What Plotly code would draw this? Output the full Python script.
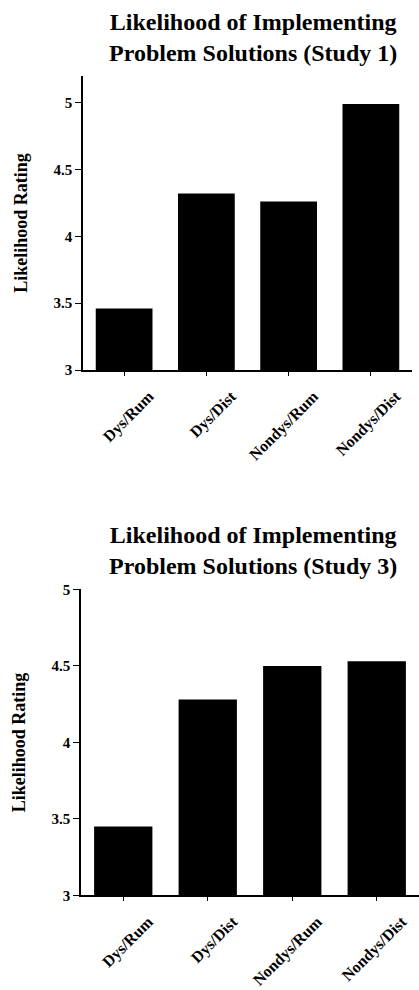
import plotly.graph_objects as go

categories = ["Dys/Rum", "Dys/Dist", "Nondys/Rum", "Nondys/Dist"]
study1_values = [3.46, 4.32, 4.26, 4.99]
study3_values = [3.45, 4.28, 4.50, 4.53]
ytick_vals = [3, 3.5, 4, 4.5, 5]
ytick_text = ["3", "3.5", "4", "4.5", "5"]
title1_lines = ["Likelihood of Implementing", "Problem Solutions (Study 1)"]
title3_lines = ["Likelihood of Implementing", "Problem Solutions (Study 3)"]
y_title = "Likelihood Rating"

W, H = 419, 990
FONT = "Liberation Serif"

fig = go.Figure()
fig.add_trace(go.Bar(x=categories, y=study1_values, width=0.69,
                     marker=dict(color="black", line=dict(width=0)),
                     xaxis="x", yaxis="y", showlegend=False))
fig.add_trace(go.Bar(x=categories, y=study3_values, width=0.69,
                     marker=dict(color="black", line=dict(width=0)),
                     xaxis="x2", yaxis="y2", showlegend=False))

def px_x(a, b):
    return [a / W, b / W]

def px_y(top, bottom):
    return [1 - bottom / H, 1 - top / H]

common_x = dict(type="category", range=[-0.5, 3.5], showline=True, linecolor="black",
                linewidth=1.5, ticks="outside", ticklen=4, tickwidth=1.2, tickcolor="black",
                tickangle=-45, ticklabelshift=25, ticklabelstandoff=5,
                showgrid=False, zeroline=False,
                tickfont=dict(family=FONT, size=16, color="black", weight="bold"))
common_y = dict(showline=True, linecolor="black", linewidth=1.5, ticks="outside",
                ticklen=6, tickwidth=1.2, tickcolor="black", showgrid=False,
                zeroline=False, tickvals=ytick_vals, ticktext=ytick_text,
                tickfont=dict(family=FONT, size=15, color="black", weight="bold"),
                title=dict(text=y_title, standoff=21,
                           font=dict(family=FONT, size=18, color="black", weight="bold")))

fig.update_layout(
    width=W, height=H, margin=dict(l=0, r=0, t=0, b=0),
    paper_bgcolor="white", plot_bgcolor="white", bargap=0.3,
    xaxis=dict(domain=px_x(83, 412), anchor="y", **common_x),
    yaxis=dict(domain=px_y(69, 368), anchor="x", range=[3, 5.2], **common_y),
    xaxis2=dict(domain=px_x(81, 419), anchor="y2", **common_x),
    yaxis2=dict(domain=px_y(591, 902), anchor="x2", range=[3, 5], **common_y),
)

tfont = dict(family=FONT, size=24, color="black", weight="bold")
for lines, ymid in ((title1_lines, 30), (title3_lines, 551)):
    fig.add_annotation(text="<br>".join(lines), xref="paper", yref="paper",
                       x=253 / W, y=1 - ymid / H, xanchor="center", yanchor="middle",
                       showarrow=False, font=tfont)

fig.write_html("out.html")
